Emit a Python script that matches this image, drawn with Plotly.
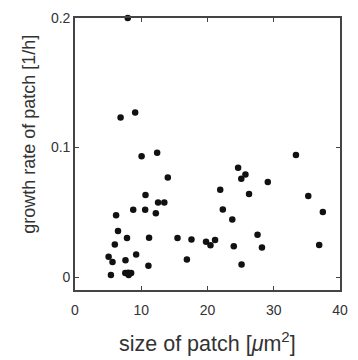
import plotly.graph_objects as go

# patch size [um^2]
patch_size = [
    7.96, 6.88, 9.08, 10.05, 12.40, 14.01, 10.64, 12.54, 13.48, 8.79,
    10.59, 12.20, 6.20, 6.49, 7.85, 11.18, 15.47, 17.58, 19.78, 6.01,
    9.23, 5.07, 5.66, 7.62, 16.89, 11.08, 5.42, 7.59, 8.03, 8.47,
    8.10, 33.35, 24.62, 25.73, 25.10, 29.10, 21.92, 26.27, 35.21, 37.41,
    22.31, 23.74, 27.55, 20.45, 21.14, 23.97, 28.22, 36.86, 25.14,
]
# growth rate [1/h]
growth_rate = [
    0.2000, 0.1231, 0.1270, 0.0933, 0.0960, 0.0769, 0.0634, 0.0575, 0.0575, 0.0519,
    0.0519, 0.0493, 0.0477, 0.0355, 0.0301, 0.0304, 0.0301, 0.0289, 0.0272, 0.0251,
    0.0174, 0.0156, 0.0117, 0.0130, 0.0136, 0.0087, 0.0015, 0.0031, 0.0034, 0.0031,
    0.0015, 0.0943, 0.0843, 0.0792, 0.0759, 0.0733, 0.0674, 0.0641, 0.0626, 0.0503,
    0.0521, 0.0444, 0.0327, 0.0245, 0.0286, 0.0238, 0.0228, 0.0248, 0.0097,
]

x_ticks = [0, 10, 20, 30, 40]
y_ticks = [0, 0.1, 0.2]
y_tick_labels = ["0", "0.1", "0.2"]

axis_color = "#444444"
text_color = "#333333"
font_family = "Liberation Sans, Arial, Helvetica, sans-serif"

fig = go.Figure(
    go.Scatter(
        x=patch_size,
        y=growth_rate,
        mode="markers",
        marker=dict(size=6.5, color="#111111", line=dict(width=0)),
        cliponaxis=False,
        showlegend=False,
    )
)

axis_common = dict(
    showline=True,
    linecolor=axis_color,
    linewidth=1.6,
    mirror="ticks",
    ticks="inside",
    ticklen=4,
    tickwidth=1.3,
    tickcolor=axis_color,
    showgrid=False,
    zeroline=False,
    tickfont=dict(family=font_family, size=14, color=text_color),
)

fig.update_xaxes(range=[0, 40], tickvals=x_ticks, ticklabelstandoff=6, **axis_common)
fig.update_yaxes(range=[-0.01, 0.2], tickvals=y_ticks, ticktext=y_tick_labels, **axis_common)

fig.add_annotation(
    text="size of patch [<i>\u03bc</i>m<sup>2</sup>]",
    xref="paper", yref="paper", x=0.5, y=-0.19,
    xanchor="center", yanchor="middle", showarrow=False,
    font=dict(family=font_family, size=21.5, color=text_color),
)
fig.add_annotation(
    text="growth rate of patch [1/h]",
    xref="paper", yref="paper", x=-0.172, y=0.572,
    xanchor="center", yanchor="middle", textangle=-90, showarrow=False,
    font=dict(family=font_family, size=18, color=text_color),
)

fig.update_layout(
    width=358,
    height=360,
    margin=dict(l=75, r=10, t=16, b=70),
    paper_bgcolor="white",
    plot_bgcolor="white",
)

fig.write_html("out.html")
